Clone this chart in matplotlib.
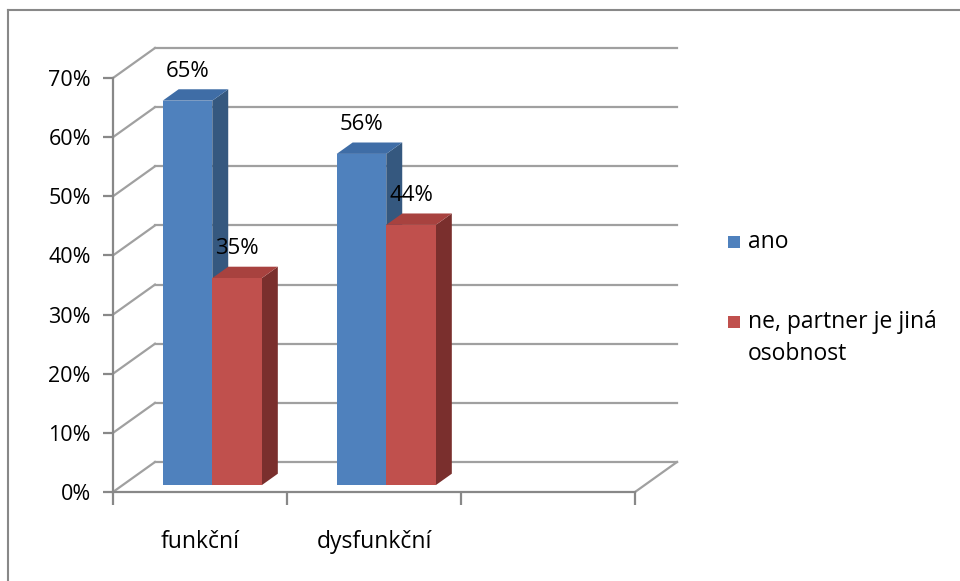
import matplotlib
matplotlib.use("Agg")
import matplotlib.pyplot as plt
from matplotlib.patches import Polygon, Rectangle
from matplotlib.lines import Line2D
from matplotlib.ticker import FixedLocator

categories = ["funkční", "dysfunkční", ""]
series_names = ["ano", "ne, partner je jiná\nosobnost"]
ano = [0.65, 0.56]
ne = [0.35, 0.44]
y_ticks = [0.0, 0.1, 0.2, 0.3, 0.4, 0.5, 0.6, 0.7]

FRONT = ["#4F81BD", "#C0504D"]
TOP = ["#3F6DA6", "#A8423F"]
SIDE = ["#35587F", "#7A2F2D"]
GRID = "#A0A0A0"

plt.rcParams['font.family'] = ['Open Sans', 'DejaVu Sans']

W_PX, H_PX = 960, 581
fig = plt.figure(figsize=(W_PX / 100, H_PX / 100), dpi=100)
fig.patch.set_facecolor('white')

# front plane of the 3-D box
ax = fig.add_axes([113 / W_PX, 89 / H_PX, 522 / W_PX, 414 / H_PX])
ax.set_xlim(0, 3)
ax.set_ylim(0, 0.7)
ax.patch.set_alpha(0)

# depth of the box in data units (42 px right, 30 px up)
DX = 42 / 174
DY = 30 * 0.7 / 414

# back wall gridlines and left wall diagonals
for v in y_ticks:
    ax.plot([DX, 3 + DX], [v + DY, v + DY], color=GRID, lw=1.6,
            clip_on=False, zorder=1)
    ax.plot([0, DX], [v, v + DY], color=GRID, lw=1.6, clip_on=False, zorder=1)
# floor right edge
ax.plot([3, 3 + DX], [0, DY], color=GRID, lw=1.6, clip_on=False, zorder=1)

# bars
BAR_W = 0.285
F0, F1 = 0.23, 0.61
d = F1 - F0


def draw_bar(x_left, v, k):
    x0 = x_left + F0 * DX
    x1 = x0 + BAR_W
    y0 = F0 * DY
    top = v + y0
    ax.add_patch(Polygon([(x1, y0), (x1, top), (x1 + d * DX, top + d * DY),
                          (x1 + d * DX, y0 + d * DY)], closed=True,
                         facecolor=SIDE[k], edgecolor='none', zorder=3,
                         clip_on=False))
    ax.add_patch(Polygon([(x0, top), (x1, top), (x1 + d * DX, top + d * DY),
                          (x0 + d * DX, top + d * DY)], closed=True,
                         facecolor=TOP[k], edgecolor='none', zorder=3,
                         clip_on=False))
    ax.add_patch(Rectangle((x0, y0), BAR_W, v, facecolor=FRONT[k],
                           edgecolor='none', zorder=3, clip_on=False))
    ax.annotate(f"{v * 100:.0f}%", xy=((x0 + x1) / 2, top),
                xytext=(0, 21), textcoords='offset points',
                ha='center', va='center', fontsize=16, color='black',
                zorder=6, annotation_clip=False)


for i in range(len(ano)):
    left = i + 0.515 - BAR_W
    draw_bar(left, ano[i], 0)
    draw_bar(left + BAR_W, ne[i], 1)

# axes: front vertical axis and front floor edge
for side in ['top', 'right']:
    ax.spines[side].set_visible(False)
for side in ['left', 'bottom']:
    ax.spines[side].set_color('#888888')
    ax.spines[side].set_linewidth(1.6)

ax.set_yticks(y_ticks)
ax.set_yticklabels([f"{t * 100:.0f}%" for t in y_ticks])
ax.tick_params(axis='y', length=7, width=1.6, color='#888888', pad=9,
               labelsize=15.5, labelcolor='black')

ax.xaxis.set_minor_locator(FixedLocator([0, 1, 2, 3]))
ax.set_xticks([0.5, 1.5, 2.5])
ax.set_xticklabels(categories)
ax.tick_params(axis='x', which='major', length=0, pad=27, labelsize=16.5,
               labelcolor='black')
ax.tick_params(axis='x', which='minor', length=9, width=1.6, color='#888888')

# legend
leg_y = [242, 322]
for k, name in enumerate(series_names):
    y = leg_y[k]
    fig.patches.append(Rectangle((728 / W_PX, 1 - (y + 6) / H_PX), 12 / W_PX,
                                 12 / H_PX, transform=fig.transFigure,
                                 facecolor=FRONT[k], edgecolor='none'))
    fig.text(748 / W_PX, 1 - y / H_PX, name.split("\n")[0], ha='left',
             va='center', fontsize=16.5, color='black')
    for j, extra in enumerate(name.split("\n")[1:]):
        fig.text(748 / W_PX, 1 - (y + 32 * (j + 1)) / H_PX, extra, ha='left',
                 va='center', fontsize=16.5, color='black')

# chart area border (left and top edges)
fig.lines.append(Line2D([8 / W_PX, 8 / W_PX], [0, 1 - 10 / H_PX],
                        transform=fig.transFigure, color='#888888', lw=1.5))
fig.lines.append(Line2D([8 / W_PX, 1], [1 - 10 / H_PX, 1 - 10 / H_PX],
                        transform=fig.transFigure, color='#888888', lw=1.5))

fig.savefig("out.png", dpi=100)
